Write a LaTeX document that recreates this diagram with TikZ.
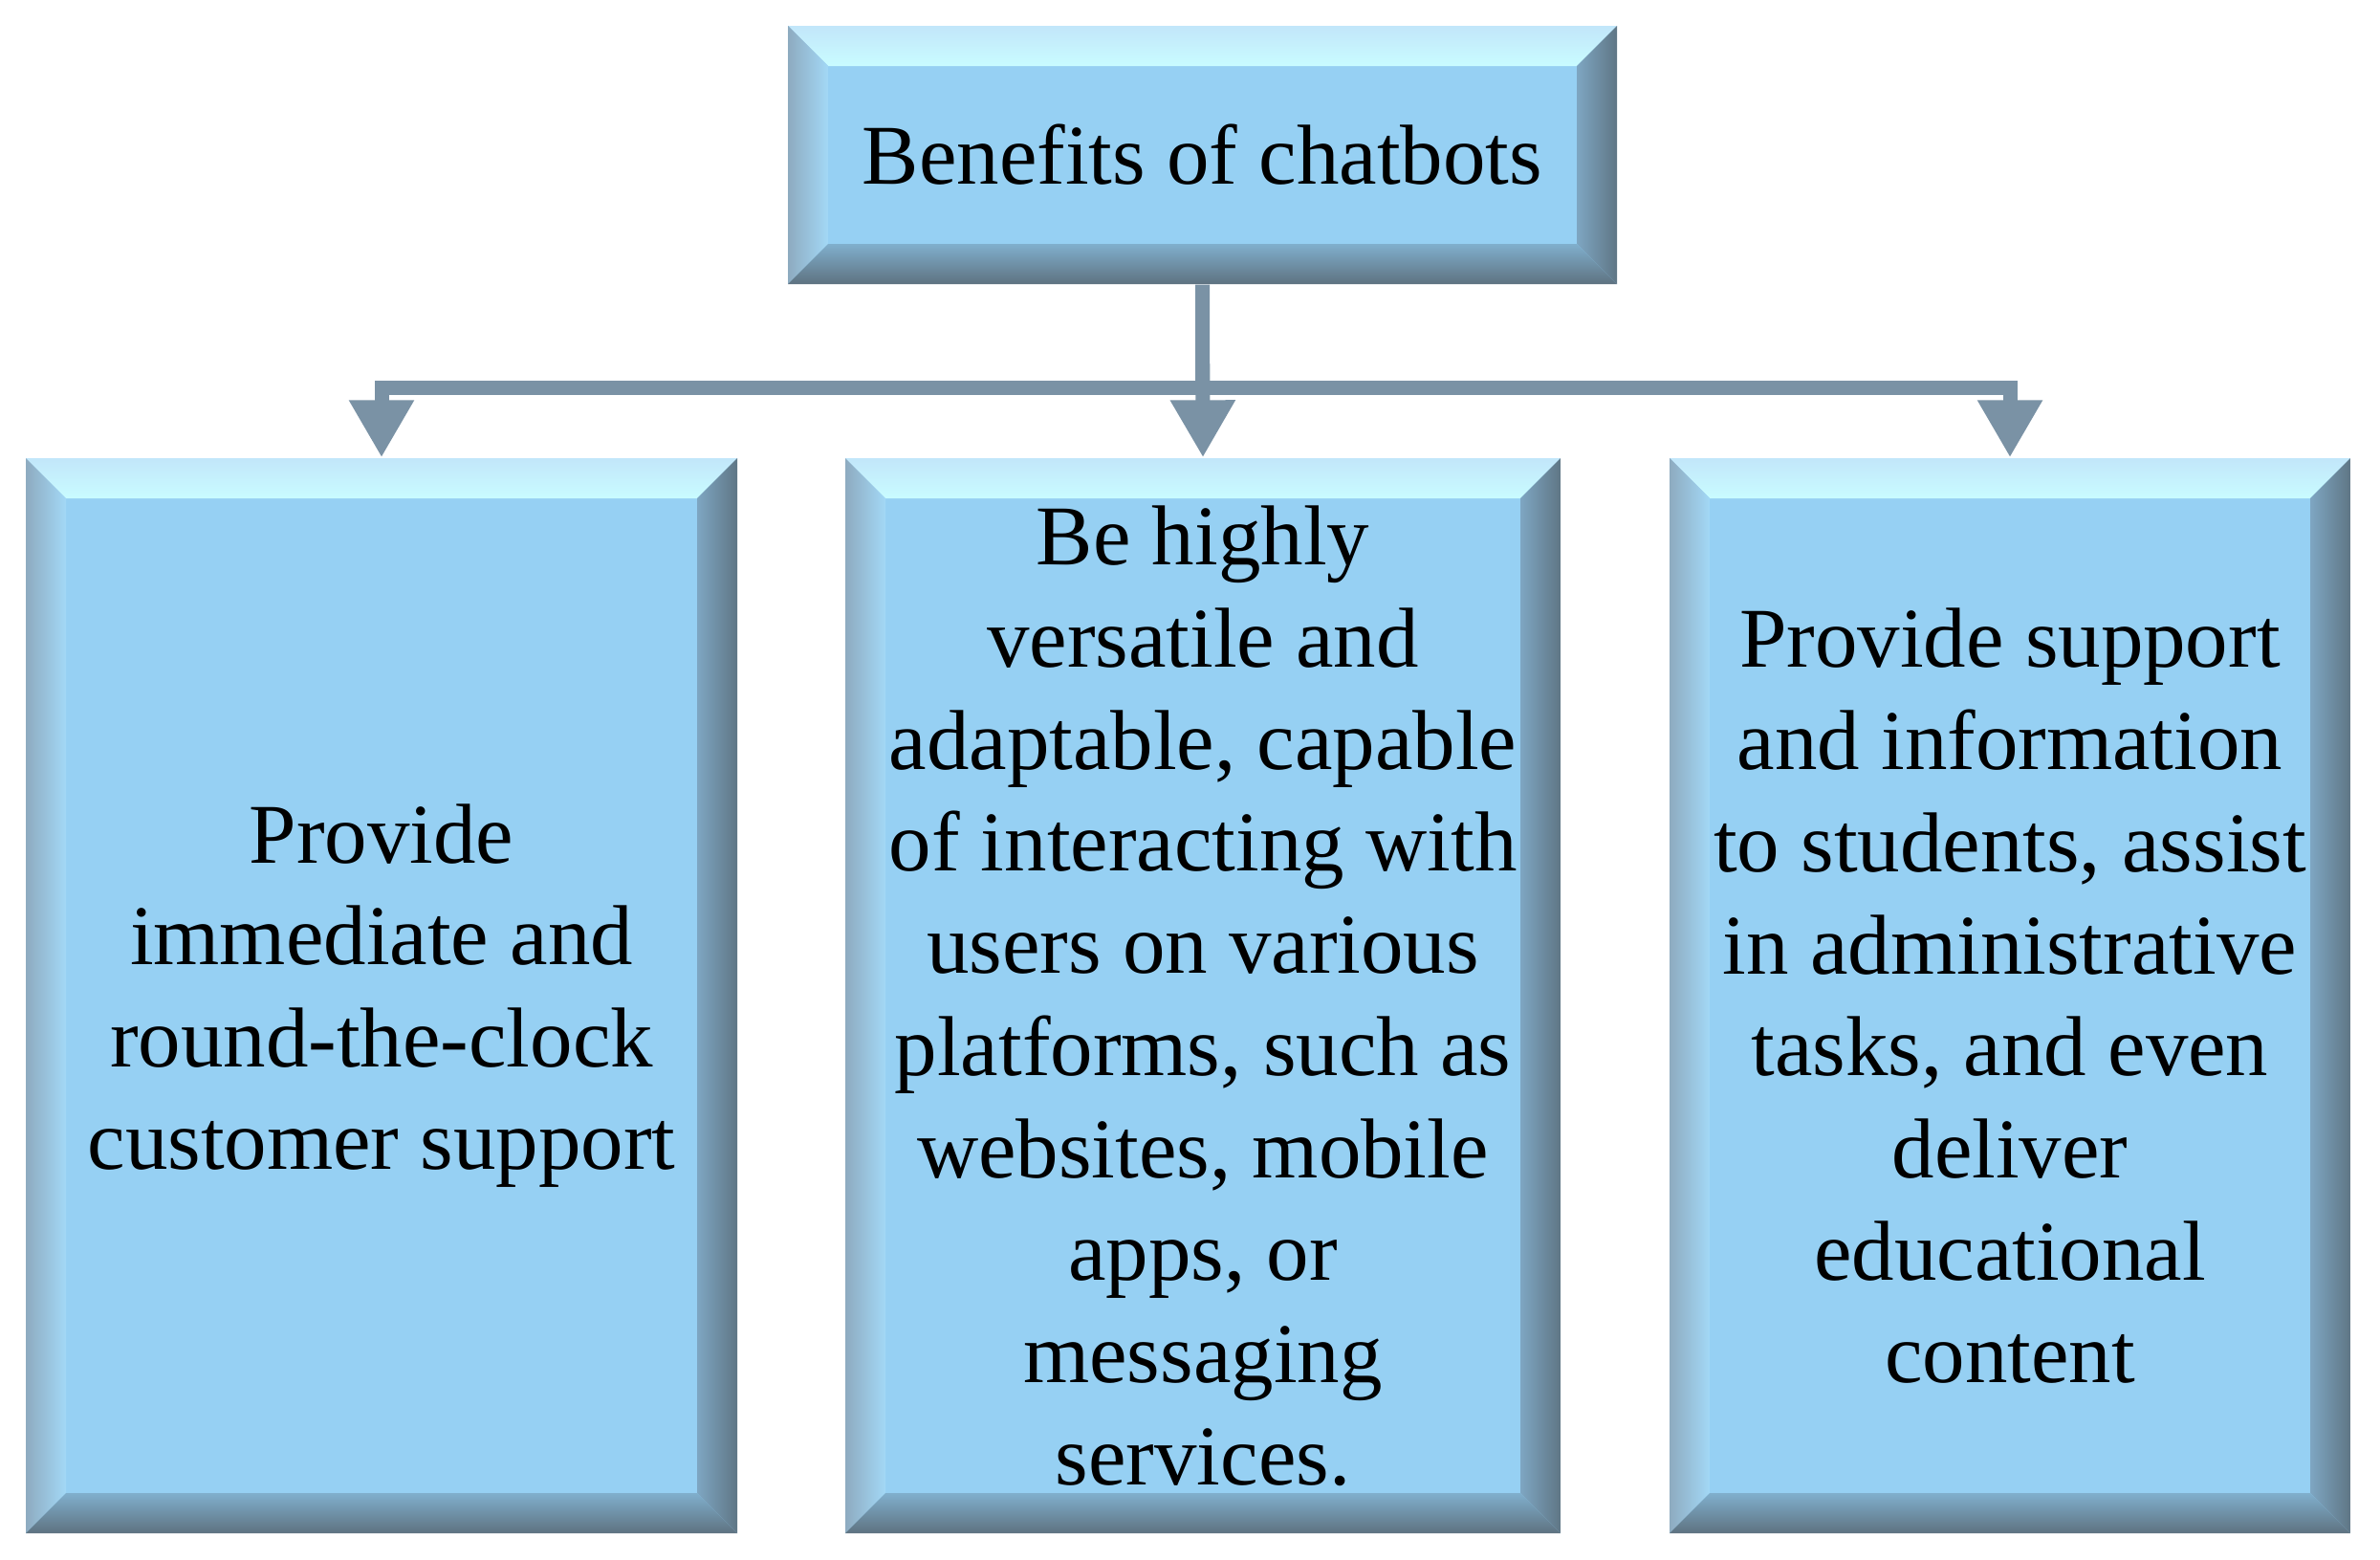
\documentclass[tikz,border=0pt]{standalone}
\usepackage{fontspec}
\setmainfont{Liberation Serif}
\usetikzlibrary{arrows.meta}

\definecolor{boxface}{HTML}{96D0F3}
\definecolor{bevtopout}{HTML}{C2E6FA}
\definecolor{bevtopin}{HTML}{C9FCFF}
\definecolor{bevleftout}{HTML}{8EABC0}
\definecolor{bevleftin}{HTML}{A3D8F6}
\definecolor{bevrightin}{HTML}{7EA6C2}
\definecolor{bevrightout}{HTML}{5F7685}
\definecolor{bevbotin}{HTML}{80AFCD}
\definecolor{bevbotout}{HTML}{5E7280}
\definecolor{connblue}{HTML}{7A92A5}
\newcommand{\bevw}{0.42cm}

\begin{document}
\begin{tikzpicture}[
    bevbox/.style={fill=boxface, align=center, inner sep=0pt,
        font=\fontsize{25.3}{30.4}\selectfont,
        path picture={
            \coordinate (nw) at (path picture bounding box.north west);
            \coordinate (ne) at (path picture bounding box.north east);
            \coordinate (sw) at (path picture bounding box.south west);
            \coordinate (se) at (path picture bounding box.south east);
            \shade[top color=bevtopout, bottom color=bevtopin] (nw) -- (ne) -- ([shift={(-\bevw,-\bevw)}]ne) -- ([shift={(\bevw,-\bevw)}]nw) -- cycle;
            \shade[left color=bevleftout, right color=bevleftin] (nw) -- ([shift={(\bevw,-\bevw)}]nw) -- ([shift={(\bevw,\bevw)}]sw) -- (sw) -- cycle;
            \shade[left color=bevrightin, right color=bevrightout] (ne) -- ([shift={(-\bevw,-\bevw)}]ne) -- ([shift={(-\bevw,\bevw)}]se) -- (se) -- cycle;
            \shade[top color=bevbotin, bottom color=bevbotout] (sw) -- ([shift={(\bevw,\bevw)}]sw) -- ([shift={(-\bevw,\bevw)}]se) -- (se) -- cycle;
        }},
    conn/.style={line width=0.15cm, draw=connblue, -{Triangle[width=0.64cm,length=0.6cm,fill=connblue]}}
]
\useasboundingbox (0,0) rectangle (24.89,-16.30);

\node[bevbox, minimum width=8.67cm, minimum height=2.70cm] (top) at (12.575,-1.62) {Benefits of chatbots};
\node[bevbox, minimum width=7.44cm, minimum height=11.24cm] (left) at (3.99,-10.41) {Provide\\immediate and\\round-the-clock\\customer support};
\node[bevbox, minimum width=7.48cm, minimum height=11.24cm] (mid) at (12.58,-10.41) {Be highly\\versatile and\\adaptable, capable\\of interacting with\\users on various\\platforms, such as\\websites, mobile\\apps, or\\messaging\\services.};
\node[bevbox, minimum width=7.12cm, minimum height=11.24cm] (right) at (21.02,-10.41) {Provide support\\and information\\to students, assist\\in administrative\\tasks, and even\\deliver\\educational\\content};

\draw[conn] (top.south) -- ++(0,-1.08) -| (left.north);
\draw[conn] (top.south) -- (mid.north);
\draw[conn] (top.south) -- ++(0,-1.08) -| (right.north);
\end{tikzpicture}
\end{document}
